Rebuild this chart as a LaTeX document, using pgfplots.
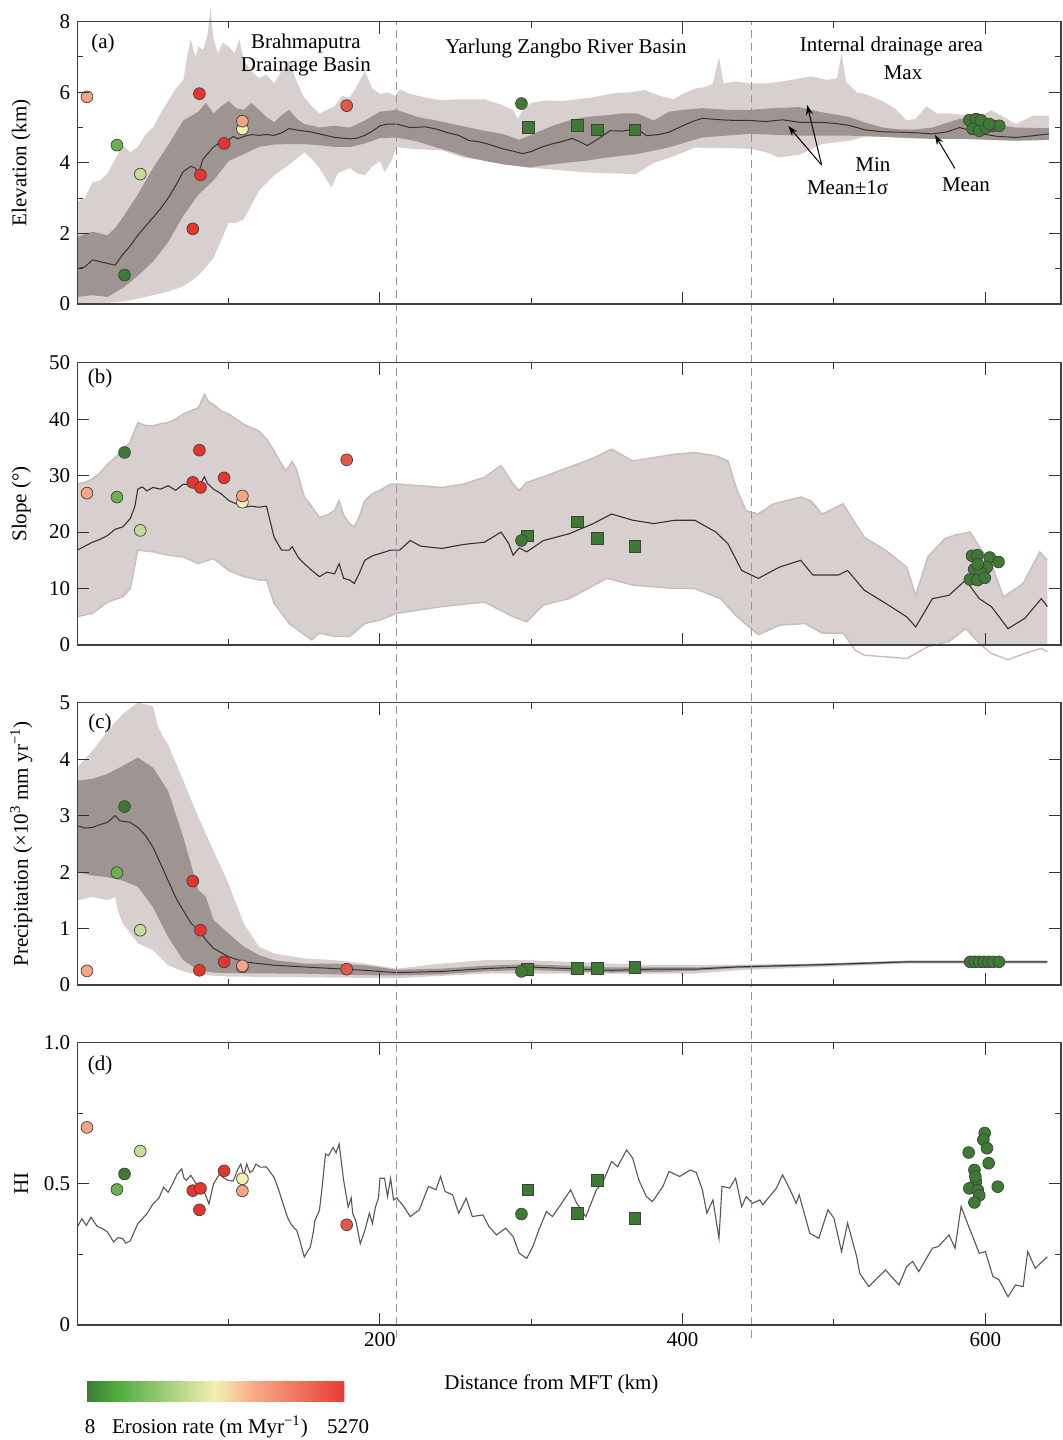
\documentclass[border=0pt]{standalone}
\usepackage{fontspec}
\setmainfont{Liberation Serif}
\usepackage{pgfplots}
\pgfplotsset{compat=1.18}
\usepgfplotslibrary{fillbetween}
\usetikzlibrary{arrows.meta}

\definecolor{bandlt}{RGB}{215,208,206}
\definecolor{banddk}{RGB}{158,149,147}
\definecolor{bandedge}{RGB}{198,190,188}
\definecolor{meanln}{RGB}{55,50,50}
\definecolor{hiln}{RGB}{92,84,82}
\definecolor{dashcol}{RGB}{150,150,150}
\definecolor{cdg}{RGB}{62,122,52}
\definecolor{cmg}{RGB}{108,178,76}
\definecolor{clg}{RGB}{194,221,152}
\definecolor{cyl}{RGB}{243,240,181}
\definecolor{csa}{RGB}{246,165,132}
\definecolor{crd}{RGB}{232,52,44}
\definecolor{crl}{RGB}{228,88,74}

\newcommand{\fnt}{\fontsize{10.5}{11.5}\selectfont}

\pgfplotsset{
  panel/.style={
    scale only axis, width=491.85pt, height=141.15pt,
    xmin=0, xmax=650, clip=false, axis on top,
    xtick={200,400,600}, minor xtick={100,300,500}, xticklabels={},
    tick align=inside, tick pos=both,
    major tick length=6pt, minor tick length=3pt,
    tick style={black!80, line width=0.5pt},
    axis line style={black!75, line width=0.6pt},
    tick label style={font=\fnt}, label style={font=\fnt},
    /pgf/number format/assume math mode=true,
    ylabel style={at={(axis description cs:-0.057,0.5)}, anchor=center},
  },
  pts/.style={only marks, mark=*, mark size=2.95pt,
    mark options={fill=#1, draw=black!75, line width=0.35pt}},
  sqs/.style={only marks, mark=square*, mark size=2.9pt,
    mark options={fill=cdg, draw=black!75, line width=0.35pt}},
}

\begin{document}
\begin{tikzpicture}

% ---------------- (a) elevation
\begin{axis}[panel, at={(38.65pt,568pt)}, anchor=south west,
  ymin=0, ymax=8, ytick={0,2,4,6,8}, minor ytick={1,3,5,7},
  ylabel={Elevation (km)}]
\addplot[draw=none, name path=aMax] coordinates {
(0,2.9)(5,3.0)(10,3.45)(15,3.5)(20,3.7)(25,4.1)(30,4.5)(35,4.3)(40,4.45)(45,4.8)(50,5.0)(55,5.4)(60,5.75)(65,6.1)(70,6.35)(73,7.1)(75,7.5)(78,7.0)(80,7.3)(83,7.2)(86,7.6)(88,8.4)(90,7.5)(93,7.1)(96,7.4)(100,7.3)(104,7.1)(107,7.5)(110,6.9)(115,6.6)(120,6.4)(125,6.5)(130,6.25)(135,6.6)(140,6.9)(145,6.3)(150,5.85)(155,5.6)(160,5.4)(165,5.5)(170,5.6)(175,5.9)(180,5.85)(185,6.2)(190,6.6)(195,6.1)(200,5.95)(205,6.0)(210,5.9)(213,6.08)(220,5.95)(230,5.85)(241,5.77)(250,5.8)(260,5.8)(269,5.8)(280,5.65)(288,5.5)(291,5.25)(295,5.55)(300,5.7)(310,5.77)(320,5.75)(330,5.8)(340,5.85)(353,5.96)(365,6.0)(375,6.06)(385,5.9)(394,5.8)(400,5.95)(408,6.1)(415,6.15)(420,6.25)(424,7.0)(427,6.25)(435,6.3)(445,6.25)(455,6.25)(465,6.3)(478,6.4)(485,6.45)(495,6.35)(502,6.4)(505,7.1)(508,6.3)(515,6.0)(520,5.96)(532,5.75)(540,5.55)(548,5.2)(554,5.25)(561,5.6)(568,5.4)(576,5.4)(587,5.35)(595,5.3)(604,5.49)(612,5.3)(620,5.1)(632,5.34)(642,5.34)};
\addplot[draw=none, name path=aMin] coordinates {
(0,0.02)(10,0.02)(20,0.03)(30,0.07)(40,0.15)(50,0.25)(60,0.35)(70,0.5)(80,0.8)(90,1.3)(95,1.8)(100,2.3)(105,2.3)(110,2.4)(115,2.8)(120,3.2)(130,3.65)(140,3.95)(150,4.3)(155,4.1)(160,3.85)(165,3.5)(168,3.3)(172,3.7)(180,3.85)(185,3.7)(190,3.65)(195,3.9)(200,4.05)(203,3.75)(207,4.0)(211,4.45)(220,4.4)(241,4.35)(255,4.15)(269,4.06)(283,3.95)(297,3.87)(311,3.82)(325,3.77)(340,3.72)(355,3.7)(369,3.68)(381,4.0)(395,4.2)(408,4.43)(425,4.42)(445,4.4)(455,4.3)(464,4.15)(478,4.24)(492,4.53)(511,4.63)(521,4.75)(532,4.75)(543,4.7)(565,4.68)(587,4.67)(620,4.62)(642,4.65)};
\addplot[fill=bandlt, draw=none] fill between[of=aMax and aMin];
\addplot[draw=none, name path=aUp] coordinates {
(0,1.9)(10,2.05)(20,1.95)(25,2.15)(30,2.45)(40,3.1)(50,3.85)(60,4.5)(70,5.2)(80,5.45)(85,5.7)(90,5.4)(95,5.6)(100,5.75)(105,5.55)(110,5.5)(115,5.7)(120,5.5)(125,5.3)(130,5.15)(135,5.35)(140,5.5)(145,5.25)(150,5.1)(160,5.0)(170,5.05)(180,5.0)(190,5.2)(200,5.45)(211,5.5)(225,5.3)(237,5.2)(248,5.1)(259,5.0)(270,4.9)(281,4.82)(292,4.65)(303,4.85)(314,5.05)(325,5.2)(336,5.3)(350,5.35)(360,5.4)(370,5.4)(381,5.2)(391,5.45)(400,5.5)(413,5.55)(430,5.5)(444,5.5)(460,5.55)(477,5.58)(490,5.45)(510,5.3)(520,5.15)(532,5.0)(543,4.95)(554,4.95)(565,5.0)(576,5.15)(583,5.25)(595,5.2)(605,5.1)(620,5.0)(642,4.98)};
\addplot[draw=none, name path=aLo] coordinates {
(0,0.2)(10,0.25)(20,0.2)(30,0.45)(40,0.8)(50,1.2)(60,1.75)(70,2.5)(80,3.1)(90,3.5)(100,4.05)(110,4.25)(120,4.45)(130,4.52)(140,4.53)(150,4.53)(160,4.5)(170,4.45)(180,4.45)(190,4.55)(200,4.7)(211,4.72)(225,4.6)(237,4.44)(248,4.3)(259,4.15)(270,4.05)(281,3.96)(299,3.87)(314,3.96)(336,4.06)(350,4.15)(370,4.25)(391,4.44)(413,4.72)(444,4.82)(477,4.77)(510,4.77)(543,4.72)(565,4.68)(587,4.68)(620,4.63)(642,4.65)};
\addplot[fill=banddk, draw=none] fill between[of=aUp and aLo];
\addplot[meanln, line width=0.5pt] coordinates {
(0,1.0)(5,1.05)(10,1.25)(15,1.2)(20,1.15)(25,1.1)(30,1.4)(35,1.65)(40,1.95)(45,2.2)(50,2.45)(55,2.7)(60,3.0)(65,3.35)(70,3.75)(75,3.9)(78,3.85)(80,3.7)(83,4.1)(86,4.25)(90,4.45)(95,4.6)(100,4.65)(103,4.75)(106,4.68)(110,4.75)(115,4.8)(120,4.78)(125,4.8)(130,4.78)(135,4.85)(140,4.97)(145,4.93)(150,4.9)(155,4.87)(160,4.82)(165,4.77)(170,4.72)(175,4.7)(180,4.68)(185,4.7)(190,4.78)(195,4.9)(200,5.05)(205,5.1)(211,5.1)(220,5.0)(230,5.02)(237,4.96)(245,4.85)(252,4.78)(259,4.63)(265,4.6)(270,4.55)(281,4.4)(288,4.33)(294,4.26)(300,4.32)(307,4.45)(314,4.54)(320,4.6)(327,4.69)(332,4.6)(337,4.49)(345,4.7)(352,4.91)(360,4.9)(370,4.97)(376,4.77)(384,4.8)(391,4.87)(400,5.05)(407,5.18)(413,5.26)(425,5.22)(435,5.2)(444,5.2)(455,5.17)(466,5.22)(477,5.15)(490,5.15)(500,5.12)(510,5.06)(521,4.93)(532,4.88)(543,4.87)(555,4.85)(565,4.82)(575,4.88)(583,5.0)(590,4.92)(598,4.82)(608,4.75)(620,4.72)(630,4.76)(642,4.82)};
\addplot[sqs] coordinates {(298,5.01)(330.5,5.06)(343.7,4.94)(368.3,4.94)};
\addplot[pts=cdg] coordinates {(31.2,0.82)(293.5,5.68)(589.4,5.21)(593.8,5.24)(598.2,5.14)(591.6,4.96)(596,4.91)(600.4,5.0)(604.8,5.05)(609.2,5.05)(597,5.21)(602.6,5.1)};
\addplot[pts=cmg] coordinates {(26.2,4.5)};
\addplot[pts=clg] coordinates {(41.6,3.68)};
\addplot[pts=crd] coordinates {(80.7,5.96)(81.4,3.66)(76.3,2.13)(97,4.55)};
\addplot[pts=cyl] coordinates {(109.1,4.96)};
\addplot[pts=csa] coordinates {(6.4,5.87)(109.1,5.18)};
\addplot[pts=crl] coordinates {(178,5.62)};
\node[font=\fnt] at (axis cs:17,7.39) {(a)};
\node[font=\fnt, align=center] at (axis cs:151.1,7.07) {Brahmaputra\\Drainage Basin};
\node[font=\fnt] at (axis cs:322.9,7.25) {Yarlung Zangbo River Basin};
\node[font=\fnt] at (axis cs:538,7.31) {Internal drainage area};
\node[font=\fnt] at (axis cs:545.6,6.54) {Max};
\node[font=\fnt] at (axis cs:525.7,3.94) {Min};
\node[font=\fnt] at (axis cs:509,3.29) {Mean±1σ};
\node[font=\fnt] at (axis cs:587.2,3.37) {Mean};
\draw[-{Stealth[length=5pt,width=3.5pt]}, line width=0.5pt] (axis cs:491.8,3.94) -- (axis cs:469.8,5.04);
\draw[-{Stealth[length=5pt,width=3.5pt]}, line width=0.5pt] (axis cs:491.8,3.94) -- (axis cs:482.3,5.64);
\draw[-{Stealth[length=5pt,width=3.5pt]}, line width=0.5pt] (axis cs:579.9,3.84) -- (axis cs:566.7,4.79);
\end{axis}

% ---------------- (b) slope
\begin{axis}[panel, at={(38.65pt,397.5pt)}, anchor=south west,
  ymin=0, ymax=50, ytick={0,10,20,30,40,50},
  ylabel={Slope (°)}]
\addplot[bandedge, line width=0.7pt, name path=bUp] coordinates {
(0,28.5)(5,28.8)(10,29.4)(15,30.5)(20,32)(25,33.2)(30,34.4)(35,36)(40,39.4)(45,38.9)(50,38.8)(55,39.2)(60,39.4)(65,40)(70,40.9)(75,41.5)(80,42)(84,44.4)(87,43)(90,42.6)(95,41.5)(100,40.9)(105,40)(110,39.1)(115,38.5)(120,37.9)(125,36.5)(130,34.4)(135,32)(138,30.9)(142,32.5)(145,31)(150,26.2)(155,24.5)(160,22.6)(165,23)(170,23.8)(173,25.6)(176,23)(180,21.5)(183,20.9)(186,22.5)(190,25.6)(195,26.8)(200,27.4)(207,28.5)(213,28.5)(227,28.2)(241,27.9)(255,28.5)(269,29.7)(280,31.8)(288,28.5)(292,27.4)(297,28.8)(310,30)(325,31.5)(340,33)(353,34.7)(367,32.6)(381,33.2)(395,33.8)(408,34.1)(422,33.5)(430,32.6)(436,27.4)(442,23.8)(450,23.2)(460,25)(478,26.2)(485,25.5)(492,23.2)(500,24.2)(506,25)(513,22)(520,19.1)(534,16.8)(548,13.8)(554,8.8)(562,15.6)(573,18.8)(580,19.5)(590,20)(597,17)(604,14.4)(612,8.5)(625,10.9)(636,16.5)(641,15)};
\addplot[draw=none, name path=bLoFill] coordinates {
(0,5)(10,5.6)(20,7.6)(30,8.5)(35,10)(40,16.8)(50,16.5)(60,15.9)(70,15.6)(80,14.4)(90,15.3)(100,13.2)(110,12.1)(120,11.5)(125,11.5)(130,7.4)(140,3.8)(150,1.8)(155,0.9)(160,2.1)(170,1.5)(180,1.5)(190,3.8)(200,4.4)(211,5.6)(241,6.8)(269,7.6)(288,5)(297,4.1)(308,7.1)(325,8.2)(350,11.8)(367,10.6)(395,10)(408,10)(425,8.2)(436,5)(450,1.8)(464,3.5)(481,3.8)(492,2.1)(506,2.1)(512,0)(520,0)(534,0)(548,0)(561,0)(576,0.6)(587,2.9)(596,0.3)(598,0)(604,0)(615,0)(626,0)(637,0)(641,0)};
\addplot[fill=bandlt, draw=none] fill between[of=bUp and bLoFill];
\addplot[bandedge, line width=0.7pt] coordinates {
(0,5)(10,5.6)(20,7.6)(30,8.5)(35,10)(40,16.8)(50,16.5)(60,15.9)(70,15.6)(80,14.4)(90,15.3)(100,13.2)(110,12.1)(120,11.5)(125,11.5)(130,7.4)(140,3.8)(150,1.8)(155,0.9)(160,2.1)(170,1.5)(180,1.5)(190,3.8)(200,4.4)(211,5.6)(241,6.8)(269,7.6)(288,5)(297,4.1)(308,7.1)(325,8.2)(350,11.8)(367,10.6)(395,10)(408,10)(425,8.2)(436,5)(450,1.8)(464,3.5)(481,3.8)(492,2.1)(506,2.1)(514,-0.9)(520,-1.8)(534,-2.1)(548,-2.4)(562,-0.3)(576,0.6)(587,2.9)(596,0.3)(604,-1.5)(615,-2.6)(626,-1.5)(637,-0.6)(641,-1.2)};
\addplot[meanln, line width=0.55pt] coordinates {
(0,16.8)(5,17.5)(10,18.2)(15,18.7)(20,19.4)(25,20.5)(30,20.9)(35,22.4)(38,24.5)(40,27.6)(43,28.0)(46,27.3)(50,27.9)(55,27.6)(60,28.2)(65,27.4)(70,28.5)(75,28.3)(80,27.9)(84,29.8)(86,28.6)(90,27.6)(95,26.8)(100,25.6)(105,25.0)(110,24.4)(115,24.6)(120,24.4)(125,24.6)(130,19.1)(135,16.8)(140,16.8)(142,17.4)(146,15.5)(150,14.4)(155,13.2)(160,12.1)(165,12.9)(170,12.6)(173,14.4)(176,11.8)(180,11.5)(183,10.9)(186,12.5)(190,15)(195,15.8)(200,16.2)(207,16.8)(213,16.8)(220,18.5)(227,17.5)(241,17.1)(255,17.8)(269,18.2)(280,20)(285,18)(288,15.9)(292,17.2)(297,16.5)(308,18.5)(325,19.7)(341,21.5)(353,23.2)(367,22.1)(381,21.5)(395,22.1)(408,22.1)(422,20)(430,17.9)(439,13.2)(450,11.8)(464,13.8)(478,15)(486,12.4)(503,12.4)(509,13.2)(520,9.7)(534,7.4)(548,5.0)(554,3.2)(565,8.2)(576,8.8)(587,11.5)(596,8.2)(604,6.8)(615,2.9)(626,4.7)(637,8.2)(641,6.8)};
\addplot[sqs] coordinates {(297.5,19.3)(330.6,21.8)(343.7,18.9)(368.5,17.5)};
\addplot[pts=cdg] coordinates {(31.2,34.1)(293.5,18.5)(591.2,15.8)(594.8,15.9)(602.9,15.5)(608.7,14.7)(592.6,13.4)(601,13.8)(596.8,12.9)(589.8,11.6)(594.8,11.5)(599.6,11.9)(595,14.3)};
\addplot[pts=cmg] coordinates {(26.2,26.2)};
\addplot[pts=clg] coordinates {(41.6,20.3)};
\addplot[pts=crd] coordinates {(76.3,28.8)(80.7,34.5)(81.4,27.9)(97,29.6)};
\addplot[pts=cyl] coordinates {(109.1,25.3)};
\addplot[pts=csa] coordinates {(6.4,26.9)(109.1,26.4)};
\addplot[pts=crl] coordinates {(178,32.8)};
\node[font=\fnt] at (axis cs:15,47.2) {(b)};
\end{axis}

% ---------------- (c) precipitation
\begin{axis}[panel, at={(38.65pt,227.5pt)}, anchor=south west,
  ymin=0, ymax=5, ytick={0,1,2,3,4,5},
  ylabel={Precipitation (×10\textsuperscript{3} mm yr\textsuperscript{−1})}]
\addplot[draw=none, name path=cMax] coordinates {
(0,3.85)(10,4.15)(20,4.5)(30,4.8)(40,5.0)(50,4.94)(53,4.6)(57,4.38)(60,4.26)(70,3.62)(80,2.97)(90,2.38)(100,1.79)(110,1.09)(120,0.68)(130,0.56)(150,0.47)(170,0.44)(190,0.38)(211,0.29)(241,0.38)(269,0.44)(297,0.44)(325,0.41)(353,0.38)(381,0.35)(408,0.35)(436,0.36)(492,0.38)(548,0.41)(641,0.41)};
\addplot[draw=none, name path=cMin] coordinates {
(0,1.5)(10,1.56)(20,1.5)(25,1.56)(27,1.3)(30,1.09)(40,0.74)(50,0.62)(60,0.35)(70,0.24)(80,0.18)(100,0.15)(211,0.12)(269,0.2)(408,0.2)(436,0.26)(492,0.32)(548,0.38)(641,0.38)};
\addplot[fill=bandlt, draw=none] fill between[of=cMax and cMin];
\addplot[draw=none, name path=cUp] coordinates {
(0,3.62)(10,3.65)(20,3.74)(30,3.88)(40,4.03)(50,3.85)(60,3.44)(70,2.62)(80,1.68)(85,1.56)(90,1.15)(100,0.91)(110,0.68)(120,0.53)(130,0.44)(150,0.38)(170,0.38)(190,0.35)(211,0.27)(241,0.29)(269,0.34)(297,0.37)(325,0.34)(353,0.31)(381,0.31)(408,0.31)(436,0.34)(492,0.38)(548,0.43)(641,0.43)};
\addplot[draw=none, name path=cLo] coordinates {
(0,2.0)(10,1.94)(20,1.91)(30,1.85)(40,1.74)(50,1.38)(60,0.85)(70,0.44)(80,0.26)(90,0.22)(100,0.21)(150,0.2)(200,0.17)(211,0.17)(241,0.19)(269,0.24)(297,0.27)(325,0.24)(353,0.22)(381,0.23)(408,0.25)(436,0.3)(492,0.34)(548,0.39)(641,0.39)};
\addplot[fill=banddk, draw=none] fill between[of=cUp and cLo];
\addplot[meanln, line width=0.5pt] coordinates {
(0,2.82)(5,2.78)(10,2.79)(15,2.84)(20,2.88)(25,3.0)(28,2.91)(35,2.88)(40,2.79)(45,2.65)(50,2.44)(55,2.15)(60,1.85)(65,1.55)(70,1.32)(75,1.1)(80,0.97)(85,0.8)(90,0.65)(100,0.5)(110,0.41)(120,0.38)(130,0.35)(150,0.32)(170,0.29)(190,0.26)(200,0.24)(211,0.22)(241,0.24)(269,0.29)(297,0.32)(325,0.29)(353,0.26)(381,0.28)(408,0.28)(436,0.32)(492,0.36)(548,0.41)(604,0.41)(641,0.41)};
\addplot[sqs] coordinates {(297.5,0.28)(330.6,0.29)(343.7,0.29)(368.5,0.31)};
\addplot[pts=cdg] coordinates {(31.2,3.16)(293.5,0.24)(590,0.41)(593,0.41)(596,0.41)(599,0.41)(602,0.41)(605,0.41)(609,0.41)};
\addplot[pts=cmg] coordinates {(26.2,1.99)};
\addplot[pts=clg] coordinates {(41.6,0.97)};
\addplot[pts=crd] coordinates {(76.3,1.84)(81.4,0.97)(80.7,0.26)(97,0.41)};
\addplot[pts=cyl] coordinates {(109.1,0.32)};
\addplot[pts=csa] coordinates {(6.4,0.25)(109.1,0.34)};
\addplot[pts=crl] coordinates {(178,0.28)};
\node[font=\fnt] at (axis cs:15,4.63) {(c)};
\end{axis}

% ---------------- (d) hypsometric integral
\begin{axis}[panel, at={(38.65pt,57.5pt)}, anchor=south west,
  ymin=0, ymax=1, ytick={0,0.5,1}, minor ytick={0.25,0.75},
  yticklabels={0,0.5,1.0}, xticklabels={200,400,600},
  ylabel={HI}, xlabel={Distance from MFT (km)},
  xlabel style={at={(axis description cs:0.482,-0.209)}, anchor=center},
  colormap={erosion}{rgb255(0pt)=(61,122,53); rgb255(12pt)=(78,172,62); rgb255(50pt)=(243,239,179); rgb255(65pt)=(246,170,136); rgb255(100pt)=(232,59,51)},
  point meta min=8, point meta max=5270,
  colorbar horizontal,
  colorbar style={at={(parent axis.south west)}, anchor=north west,
    xshift=4.6pt, yshift=-19.5pt, scale only axis, width=129pt, height=10pt,
    xtick=\empty, ytick=\empty, axis line style={draw=none}},
  ]
\addplot[hiln, line width=0.55pt] coordinates {
(0,0.347)(3,0.376)(6,0.353)(9,0.382)(13,0.35)(17,0.34)(20,0.329)(24,0.294)(27,0.31)(30,0.306)(32,0.29)(35,0.298)(40,0.359)(46,0.394)(50,0.429)(54,0.45)(57,0.488)(60,0.47)(63,0.5)(66,0.535)(69,0.553)(70.5,0.52)(72,0.512)(75,0.53)(80,0.488)(84,0.47)(87,0.429)(90,0.5)(94,0.535)(97,0.52)(100,0.512)(103,0.51)(106,0.55)(108,0.57)(110,0.53)(112,0.57)(114,0.54)(116,0.547)(118,0.57)(121,0.559)(125,0.56)(130,0.523)(133,0.48)(136,0.429)(139,0.38)(141,0.359)(143,0.345)(145,0.335)(147,0.3)(150,0.241)(152,0.26)(154,0.276)(156,0.33)(157,0.37)(160,0.406)(162,0.5)(164,0.606)(166,0.6)(169,0.629)(171,0.61)(173,0.641)(176,0.512)(179,0.418)(181,0.45)(182,0.394)(184,0.37)(187,0.288)(190,0.335)(193,0.396)(195,0.36)(197,0.418)(199,0.45)(200,0.52)(203,0.52)(205,0.455)(207,0.52)(209,0.443)(211,0.45)(215,0.425)(220,0.384)(226,0.408)(232,0.491)(237,0.479)(240,0.526)(243,0.473)(248,0.461)(252,0.396)(257,0.449)(261,0.384)(268,0.39)(272,0.349)(277,0.319)(283,0.343)(288,0.313)(292,0.254)(297,0.236)(301,0.278)(305,0.337)(310,0.402)(314,0.384)(320,0.431)(326,0.479)(330,0.431)(336,0.384)(343,0.479)(347,0.502)(353,0.579)(357,0.561)(363,0.62)(367,0.591)(371,0.514)(376,0.455)(380,0.437)(387,0.491)(391,0.544)(398,0.526)(405,0.549)(409,0.54)(413,0.479)(416,0.396)(420,0.443)(424,0.307)(426,0.491)(431,0.485)(435,0.52)(439,0.419)(442,0.455)(446,0.431)(451,0.443)(453,0.426)(462,0.485)(466,0.532)(471,0.479)(475,0.431)(477,0.461)(484,0.325)(490,0.307)(496,0.408)(500,0.378)(505,0.26)(509,0.361)(515,0.242)(517,0.183)(523,0.136)(534,0.195)(543,0.142)(548,0.207)(552,0.225)(556,0.189)(565,0.272)(569,0.278)(576,0.319)(580,0.272)(584,0.42)(589,0.349)(596,0.254)(600,0.26)(605,0.172)(609,0.16)(615,0.1)(620,0.142)(625,0.136)(628,0.26)(633,0.201)(641,0.242)};
\addplot[sqs] coordinates {(297.7,0.479)(330.5,0.396)(343.7,0.512)(368.3,0.378)};
\addplot[pts=cdg] coordinates {(31.2,0.535)(293.5,0.393)(599.6,0.68)(598.7,0.656)(601.1,0.626)(589,0.611)(602.2,0.573)(592.8,0.549)(593.8,0.508)(589.4,0.484)(595,0.478)(608.2,0.49)(596,0.459)(592.8,0.434)(593.4,0.526)};
\addplot[pts=cmg] coordinates {(26.2,0.48)};
\addplot[pts=clg] coordinates {(41.6,0.616)};
\addplot[pts=crd] coordinates {(76.3,0.476)(81.4,0.484)(80.7,0.408)(97,0.546)};
\addplot[pts=cyl] coordinates {(109.1,0.518)};
\addplot[pts=csa] coordinates {(6.4,0.70)(109.1,0.475)};
\addplot[pts=crl] coordinates {(178,0.355)};
\node[font=\fnt] at (axis cs:15,0.921) {(d)};
\draw[dashcol, line width=0.5pt, dash pattern=on 4pt off 2.5pt] (axis cs:211.2,-0.046) -- (axis cs:211.2,4.62);
\draw[dashcol, line width=0.5pt, dash pattern=on 4pt off 2.5pt] (axis cs:445.5,-0.046) -- (axis cs:445.5,4.62);
\end{axis}

\node[font=\fnt] at (45pt,6.5pt) {8};
\node[font=\fnt] at (105pt,6.5pt) {Erosion rate (m Myr\textsuperscript{−1})};
\node[font=\fnt] at (174pt,6.5pt) {5270};
\pgfresetboundingbox
\path[use as bounding box] (0,0) rectangle (531pt,720pt);
\end{tikzpicture}
\end{document}
